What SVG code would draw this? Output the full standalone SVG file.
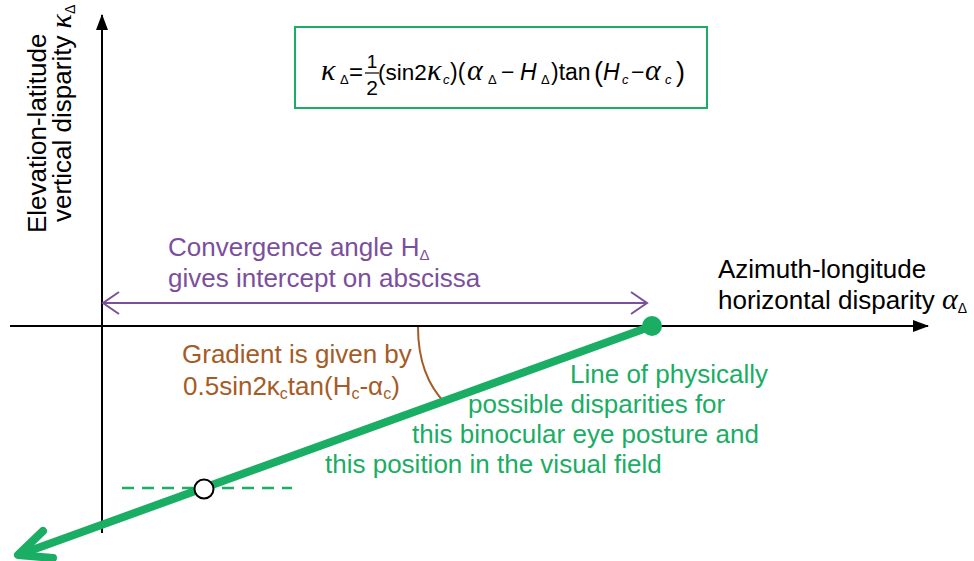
<svg xmlns="http://www.w3.org/2000/svg" width="974" height="561" viewBox="0 0 974 561">
<style>
  .sans { font-family: "Liberation Sans", Arial, sans-serif; }
  .greek { font-family: "Liberation Serif", "Times New Roman", serif; font-style: italic; }
  .ital { font-family: "Liberation Sans", Arial, sans-serif; font-style: italic; }
  .lbl { font-size: 26px; fill: #000; }
  .purple { fill: #7b4f9d; font-size: 26px; }
  .brown { fill: #a65b26; font-size: 26px; }
  .green { fill: #1aad64; font-size: 26px; }
  .f { font-size: 23px; fill: #000; }
  .sub { font-size: 13px; fill: #000; }
</style>
<defs>
  <marker id="tri" viewBox="0 0 16 12" refX="15" refY="6" markerWidth="16" markerHeight="12" markerUnits="userSpaceOnUse" orient="auto">
    <path d="M0,0 L16,6 L0,12 Z" fill="#000"/>
  </marker>
</defs>

<g id="connectors">
  <!-- axes -->
  <line x1="10" y1="326" x2="928" y2="326" stroke="#000" stroke-width="2" marker-end="url(#tri)"/>
  <line x1="102" y1="533" x2="102" y2="15" stroke="#000" stroke-width="2" marker-end="url(#tri)"/>
  <!-- purple double arrow -->
  <g stroke="#7b4f9d" stroke-width="2" fill="none">
    <line x1="103" y1="303" x2="647" y2="303"/>
    <polyline points="119,292 103,303 119,314"/>
    <polyline points="631,292 647,303 631,314"/>
  </g>
  <!-- brown angle arc -->
  <path d="M418,327 C418,362 428,386 446,404" stroke="#a65b26" stroke-width="2" fill="none"/>
  <!-- green dashed horizontal -->
  <line x1="122" y1="488" x2="292" y2="488" stroke="#1aad64" stroke-width="2.5" stroke-dasharray="12,8"/>
  <!-- green thick line -->
  <line x1="652" y1="326" x2="21" y2="554" stroke="#1aad64" stroke-width="8"/>
  <polyline points="43,531 18,555 53,558" stroke="#1aad64" stroke-width="8" fill="none" stroke-linecap="round" stroke-linejoin="round"/>
</g>

<g id="endpoint">
  <circle cx="652" cy="326" r="10" fill="#1aad64"/>
</g>
<g id="sample-point">
  <circle cx="204" cy="489" r="9.5" fill="#fff" stroke="#000" stroke-width="2"/>
</g>

<g id="formula">
  <rect x="295" y="27" width="412" height="81" fill="none" stroke="#1aad64" stroke-width="2"/>
  <text class="greek" x="321" y="80" font-size="30">κ</text>
  <text class="sans sub" x="340" y="84">Δ</text>
  <text class="sans" x="349" y="80" font-size="24">=</text>
  <text class="sans" x="372" y="68" font-size="19" text-anchor="middle">1</text>
  <line x1="365" y1="73" x2="379" y2="73" stroke="#000" stroke-width="1.2"/>
  <text class="sans" x="372" y="95" font-size="21" text-anchor="middle">2</text>
  <text class="sans" x="378" y="80" font-size="22.5">(sin2</text>
  <text class="greek" x="427" y="80" font-size="30">κ</text>
  <text class="ital sub" x="443" y="84">c</text>
  <text class="sans f" x="450" y="80">)(</text>
  <text class="greek" x="467" y="80" font-size="30">α</text>
  <text class="sans sub" x="488" y="84">Δ</text>
  <text class="sans f" x="501" y="80">−</text>
  <text class="ital f" x="520" y="80">H</text>
  <text class="sans sub" x="541" y="84">Δ</text>
  <text class="sans f" x="551" y="80">)tan</text>
  <text class="sans" x="594" y="81" font-size="27">(</text>
  <text class="ital f" x="603" y="80">H</text>
  <text class="ital sub" x="622" y="84">c</text>
  <text class="sans f" x="631" y="80">−</text>
  <text class="greek" x="645" y="80" font-size="30">α</text>
  <text class="ital sub" x="665" y="84">c</text>
  <text class="sans" x="676" y="81" font-size="27">)</text>
</g>

<g id="y-axis-label">
  <text class="sans lbl" transform="translate(46,233) rotate(-90)">Elevation-latitude</text>
  <text class="sans lbl" transform="translate(71,222) rotate(-90)">vertical disparity <tspan class="greek" font-size="30">κ</tspan><tspan class="sans" font-size="14" dy="4">Δ</tspan></text>
</g>

<g id="x-axis-label">
  <text class="sans lbl" x="718" y="278">Azimuth-longitude</text>
  <text class="sans lbl" x="718" y="309">horizontal disparity <tspan class="greek" font-size="30">α</tspan><tspan class="sans" font-size="14" dy="4">Δ</tspan></text>
</g>

<g id="convergence-label">
  <text class="sans purple" x="168" y="256">Convergence angle H<tspan font-size="15" dy="4">Δ</tspan></text>
  <text class="sans purple" x="168" y="287">gives intercept on abscissa</text>
</g>

<g id="gradient-label">
  <text class="sans brown" x="182" y="363">Gradient is given by</text>
  <text class="sans brown" x="183" y="395">0.5sin2κ<tspan font-size="16" dy="4">c</tspan><tspan dy="-4">tan(H</tspan><tspan font-size="16" dy="4">c</tspan><tspan dy="-4">-α</tspan><tspan font-size="16" dy="4">c</tspan><tspan dy="-4">)</tspan></text>
</g>

<g id="line-label">
  <text class="sans green" x="570" y="383">Line of physically</text>
  <text class="sans green" x="468" y="413">possible disparities for</text>
  <text class="sans green" x="412" y="443">this binocular eye posture and</text>
  <text class="sans green" x="325" y="473">this position in the visual field</text>
</g>
</svg>
